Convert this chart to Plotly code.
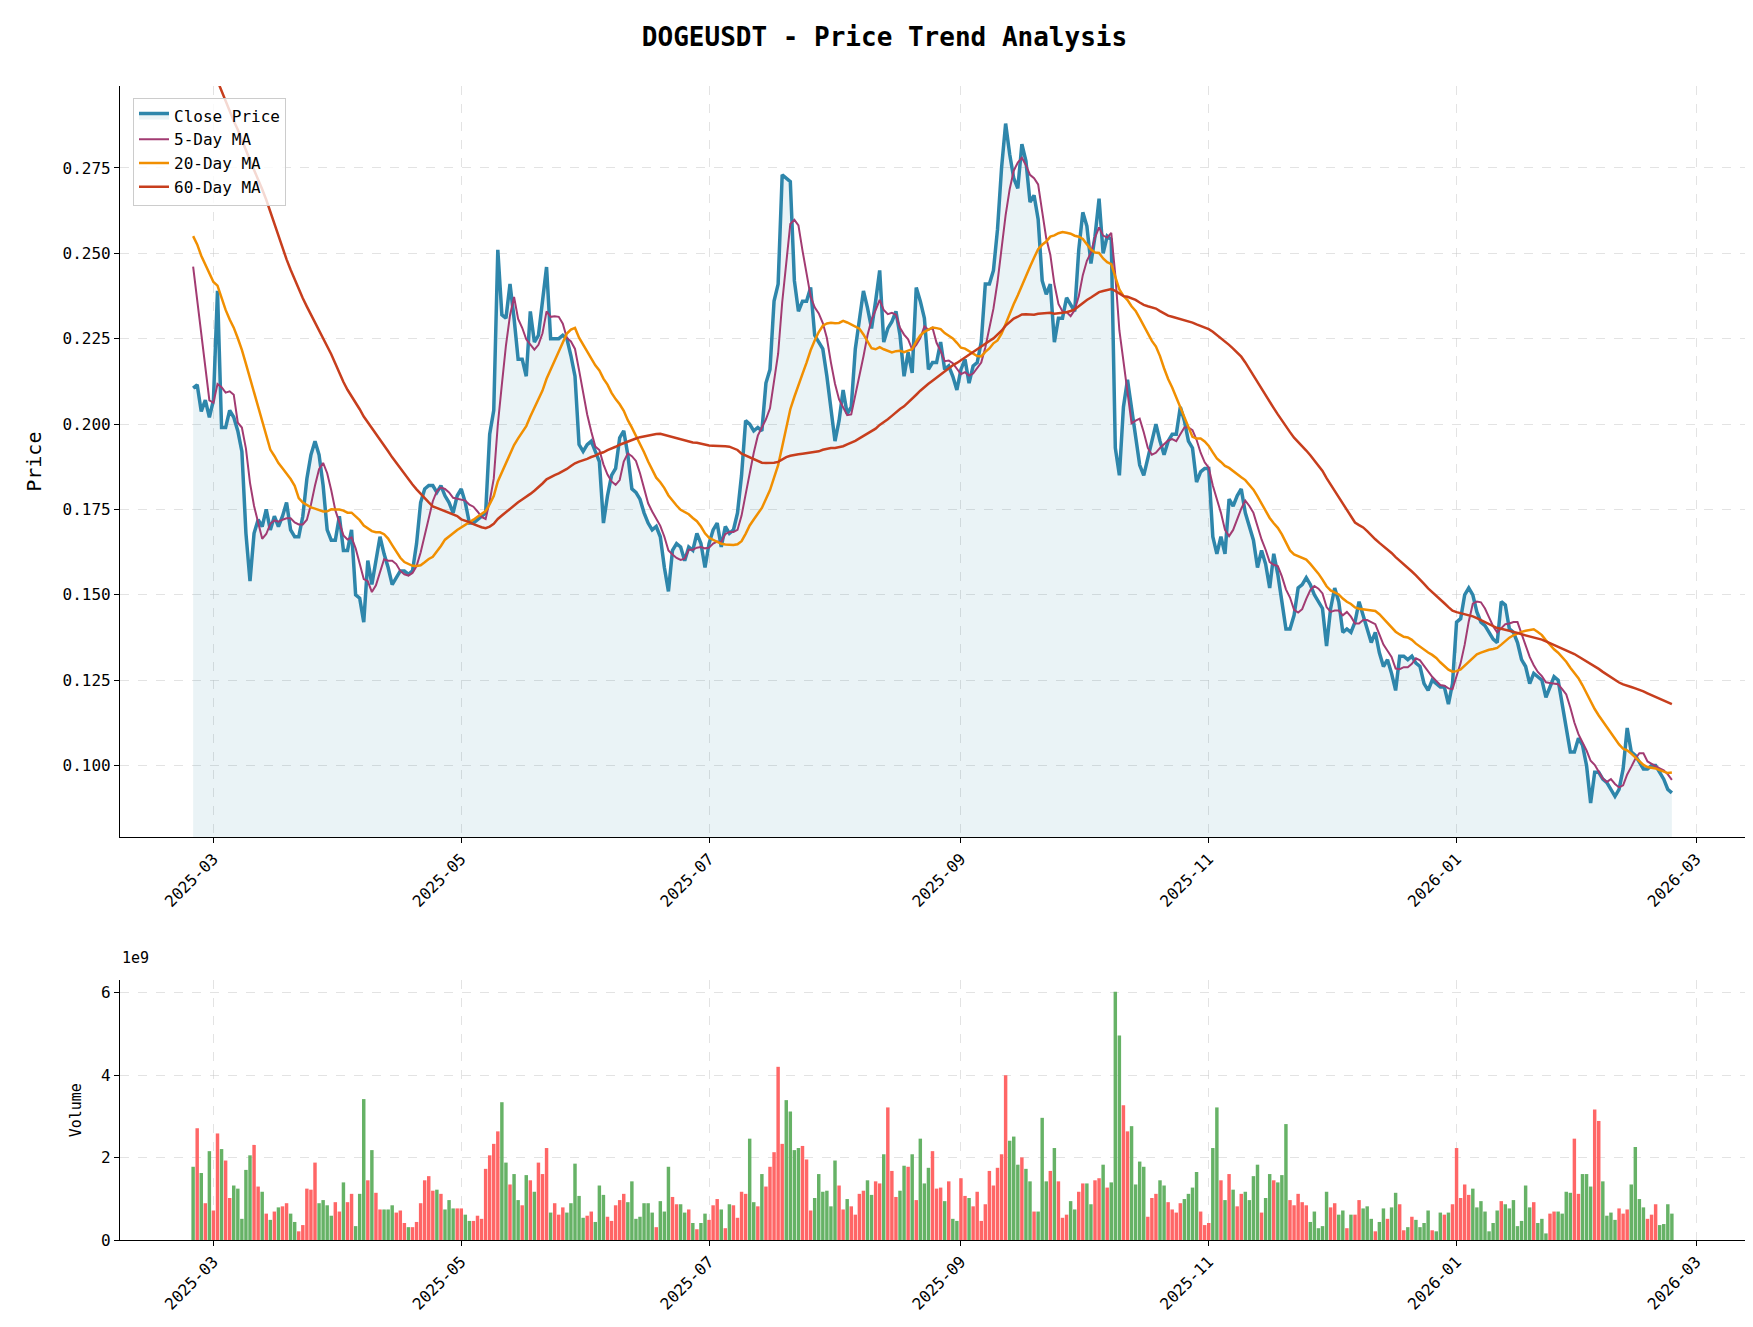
import numpy as np
import pandas as pd
import plotly.graph_objects as go
from plotly.subplots import make_subplots

start_date = "2025-02-24"

# estimated closes before the visible window (used only for moving averages)
history_close = [0.31,0.32,0.32,0.31,0.33,0.36,0.38,0.39,0.38,0.36,0.35,0.36,0.34,0.35,0.34,0.33,0.35,0.36,0.38,0.39,
                 0.40,0.38,0.36,0.35,0.34,0.33,0.34,0.33,0.33,0.32,0.33,0.32,0.31,0.32,0.33,0.34,0.32,0.30,0.28,0.27,
                 0.26,0.27,0.26,0.26,0.25,0.26,0.27,0.27,0.26,0.25,0.26,0.26,0.25,0.24,0.25,0.26,0.26,0.25,0.25]

close = [0.2105,0.2115,0.2037,0.207,0.202,0.207,0.239,0.199,0.199,0.204,0.202,0.198,0.192,0.168,0.154,0.168,0.172,0.170,0.175,0.169,
         0.173,0.170,0.173,0.177,0.169,0.167,0.167,0.173,0.184,0.191,0.195,0.191,0.182,0.169,0.166,0.166,0.173,0.163,0.163,0.169,
         0.150,0.149,0.142,0.160,0.153,0.160,0.167,0.162,0.158,0.153,0.155,0.157,0.157,0.156,0.157,0.165,0.177,0.181,0.182,0.182,
         0.180,0.182,0.179,0.177,0.174,0.179,0.181,0.177,0.171,0.171,0.172,0.173,0.174,0.197,0.204,0.251,0.232,0.231,0.241,0.231,
         0.219,0.219,0.214,0.233,0.224,0.226,0.236,0.246,0.225,0.225,0.225,0.226,0.225,0.220,0.214,0.194,0.192,0.194,0.195,0.192,
         0.189,0.171,0.179,0.185,0.187,0.196,0.198,0.191,0.181,0.180,0.178,0.174,0.171,0.169,0.170,0.167,0.158,0.151,0.163,0.165,
         0.164,0.160,0.164,0.163,0.168,0.165,0.158,0.165,0.169,0.171,0.164,0.170,0.168,0.169,0.174,0.185,0.201,0.200,0.198,0.199,
         0.198,0.212,0.216,0.236,0.241,0.273,0.272,0.271,0.242,0.233,0.236,0.236,0.240,0.226,0.224,0.222,0.214,0.204,0.195,0.201,
         0.210,0.203,0.205,0.222,0.230,0.239,0.234,0.228,0.236,0.245,0.224,0.228,0.230,0.233,0.226,0.214,0.221,0.215,0.240,0.236,
         0.231,0.216,0.218,0.218,0.224,0.216,0.217,0.214,0.210,0.216,0.219,0.212,0.217,0.218,0.224,0.241,0.241,0.245,0.257,0.275,
         0.288,0.279,0.272,0.269,0.282,0.277,0.265,0.267,0.260,0.242,0.238,0.241,0.224,0.231,0.231,0.237,0.235,0.233,0.251,0.262,
         0.258,0.247,0.255,0.266,0.250,0.255,0.254,0.193,0.185,0.205,0.213,0.205,0.197,0.188,0.185,0.190,0.195,0.200,0.195,0.191,
         0.195,0.197,0.197,0.205,0.201,0.195,0.193,0.183,0.186,0.187,0.187,0.167,0.162,0.167,0.162,0.178,0.176,0.179,0.181,0.174,
         0.170,0.166,0.158,0.163,0.159,0.152,0.162,0.156,0.148,0.140,0.140,0.144,0.152,0.153,0.155,0.153,0.150,0.148,0.146,0.135,
         0.146,0.152,0.148,0.139,0.140,0.139,0.142,0.148,0.144,0.140,0.136,0.139,0.133,0.129,0.131,0.127,0.122,0.132,0.132,0.131,
         0.132,0.130,0.129,0.124,0.122,0.125,0.124,0.123,0.123,0.118,0.124,0.142,0.143,0.150,0.152,0.150,0.145,0.142,0.141,0.139,
         0.137,0.136,0.148,0.147,0.140,0.139,0.136,0.131,0.129,0.124,0.127,0.126,0.125,0.120,0.123,0.126,0.125,0.118,0.112,0.104,
         0.104,0.108,0.106,0.100,0.089,0.098,0.098,0.096,0.095,0.093,0.091,0.093,0.099,0.111,0.104,0.103,0.101,0.099,0.099,0.100,
         0.100,0.098,0.096,0.093,0.092]

# volume bar tops read in zoom pixels (baseline 817, 118.75 px per 1e9)
vol_px = [606,495,624,711,561,732,510,555,588,696,660,669,756,615,573,543,663,678,741,759,
          735,723,720,711,741,765,792,774,669,672,594,711,702,717,747,708,735,651,708,684,
          777,684,411,645,558,681,729,729,729,717,738,732,768,780,780,765,711,645,633,675,
          672,684,729,702,726,726,726,744,762,762,747,756,612,573,540,504,420,594,657,627,
          702,717,630,645,678,594,627,552,738,711,744,723,738,711,597,690,753,747,735,765,
          660,687,750,762,717,702,684,708,648,756,750,711,711,738,780,705,735,606,693,714,
          714,738,729,768,786,768,741,759,717,699,729,783,714,717,753,678,684,525,708,720,
          627,663,606,564,318,540,414,447,558,552,546,585,732,696,627,678,675,720,588,660,
          729,699,720,744,684,675,645,687,648,654,570,435,618,693,675,603,606,570,702,525,
          654,609,561,669,666,705,648,756,762,639,690,696,720,678,762,714,618,660,609,570,
          342,531,519,600,579,612,648,735,735,465,648,618,552,648,753,744,705,729,678,654,
          654,714,645,639,600,666,651,102,228,429,504,489,657,591,606,750,696,684,645,660,
          708,729,738,711,699,
          684,666,621,735,774,768,552,435,645,702,627,672,720,684,678,702,633,600,738,696,
          627,645,651,630,483,702,717,684,708,717,765,735,783,777,678,723,711,744,732,783,
          744,744,702,726,720,756,792,765,726,756,723,681,714,789,780,750,759,780,768,732,
          789,792,738,744,738,714,552,696,657,687,669,723,705,735,792,768,732,705,714,726,
          702,777,762,660,723,708,768,756,798,741,735,735,741,678,681,525,684,627,627,663,
          441,474,648,747,738,759,726,741,729,657,549,699,723,756,744,714,774,771,714,741]

n = len(close)
volume = [(817 - p) / 118.75 * 1e9 for p in vol_px[:n]]
dates = pd.date_range(start_date, periods=n, freq="D")

allc = pd.Series(history_close + close)
h = len(history_close)
ma5 = allc.rolling(5).mean().iloc[h:].values
ma20 = allc.rolling(20).mean().iloc[h:].values
ma60 = allc.rolling(60).mean().iloc[h:].values

prev = [history_close[-1]] + close[:-1]
# red for up days, green for down days
colors = ["#FF6666" if c >= p else "#66B266" for c, p in zip(close, prev)]

FONT = "DejaVu Sans Mono"
fig = make_subplots(rows=2, cols=1, row_heights=[0.75, 0.25], vertical_spacing=0.1)
fig.add_trace(go.Scatter(x=dates, y=close, mode="lines", line=dict(color="#2E86AB", width=3.5),
                         fill="tozeroy", fillcolor="rgba(46,134,171,0.1)", name="Close Price"), 1, 1)
fig.add_trace(go.Scatter(x=dates, y=ma5, mode="lines", line=dict(color="#A23B72", width=2), name="5-Day MA"), 1, 1)
fig.add_trace(go.Scatter(x=dates, y=ma20, mode="lines", line=dict(color="#F18F01", width=2.5), name="20-Day MA"), 1, 1)
fig.add_trace(go.Scatter(x=dates, y=ma60, mode="lines", line=dict(color="#C73E1D", width=2.5), name="60-Day MA"), 1, 1)
fig.add_trace(go.Bar(x=dates, y=volume, marker=dict(color=colors, line=dict(width=0)), showlegend=False), 2, 1)

ax = dict(showline=True, linecolor="black", linewidth=1.2, ticks="outside", tickcolor="black",
          showgrid=True, gridcolor="rgba(200,200,200,0.5)", griddash="dash", zeroline=False,
          tickfont=dict(family=FONT, size=16, color="black"))
xr = ["2025-02-06", "2026-03-13"]
for r in (1, 2):
    fig.update_xaxes(ax, row=r, col=1, range=xr, dtick="M2", tick0="2025-03-01", tickformat="%Y-%m", tickangle=-45)
fig.update_yaxes(ax, row=1, col=1, range=[0.079, 0.299], dtick=0.025, tickformat=".3f",
                 title=dict(text="Price", font=dict(family=FONT, size=20, color="black")))
fig.update_yaxes(ax, row=2, col=1, range=[0, 6.3e9], tickvals=[0, 2e9, 4e9, 6e9], ticktext=["0", "2", "4", "6"],
                 title=dict(text="Volume", font=dict(family=FONT, size=15, color="black")))

fig.update_layout(
    width=1753, height=1327, paper_bgcolor="white", plot_bgcolor="white", bargap=0.15,
    margin=dict(l=112, r=16, t=78, b=95),
    title=dict(text="<b>DOGEUSDT - Price Trend Analysis</b>", x=0.5, xanchor="center", y=0.985,
               font=dict(family=FONT, size=26, color="black")),
    legend=dict(x=0.008, y=0.99, xanchor="left", yanchor="top", bgcolor="rgba(255,255,255,0.8)",
                bordercolor="#cccccc", borderwidth=1, font=dict(family=FONT, size=16, color="black")),
    annotations=[dict(text="1e9", xref="paper", yref="paper", x=0, y=0.235, xanchor="left", yanchor="bottom",
                      showarrow=False, font=dict(family=FONT, size=15, color="black"))],
)
fig.update_layout(yaxis=dict(domain=[0.349, 1.0]), yaxis2=dict(domain=[0.0, 0.225]))
fig.write_html("out.html")
